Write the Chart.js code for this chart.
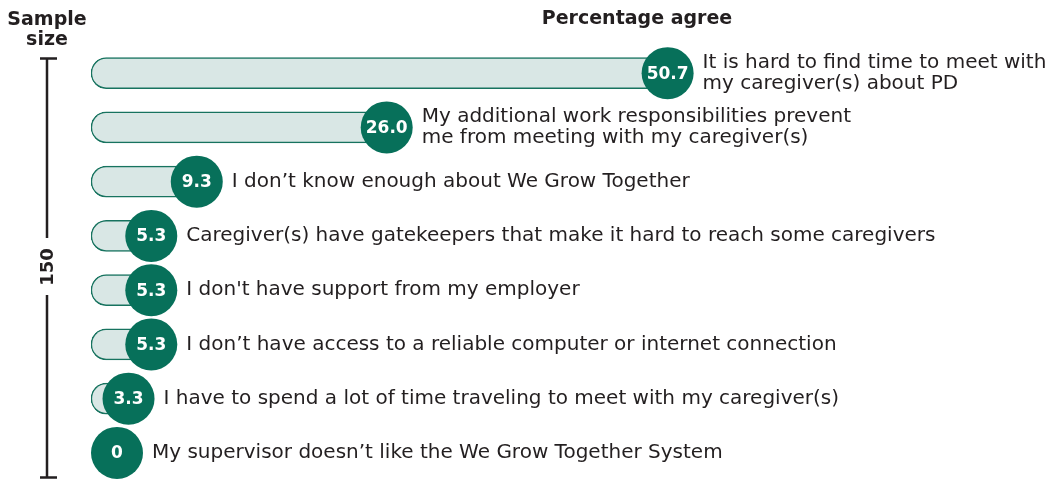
<!DOCTYPE html>
<html>
<head>
<meta charset="utf-8">
<script src="https://cdn.jsdelivr.net/npm/chart.js@4.4.1/dist/chart.umd.min.js"></script>
<style>
  html, body { margin: 0; padding: 0; background: #ffffff; }
  #barriers-chart { display: block; }
</style>
</head>
<body>
<canvas id="barriers-chart" width="1060" height="480"></canvas>
<script>
// reasons (top to bottom), multi-line ones as arrays
let reasons = [
    ['It is hard to find time to meet with', 'my caregiver(s) about PD'],
    ['My additional work responsibilities prevent', 'me from meeting with my caregiver(s)'],
    'I don’t know enough about We Grow Together',
    'Caregiver(s) have gatekeepers that make it hard to reach some caregivers',
    "I don't have support from my employer",
    'I don’t have access to a reliable computer or internet connection',
    'I have to spend a lot of time traveling to meet with my caregiver(s)',
    'My supervisor doesn’t like the We Grow Together System'
]
let percentAgree = [50.7, 26.0, 9.3, 5.3, 5.3, 5.3, 3.3, 0]
let valueLabels = ['50.7', '26.0', '9.3', '5.3', '5.3', '5.3', '3.3', '0']
let sampleSize = 150
let valueTitle = 'Percentage agree'
let sampleTitle = ['Sample', 'size']

let darkGreen = '#07705a'
let textColor = '#231f20'
let fontFamily = '"DejaVu Sans", sans-serif'
let dotRadius = 26

// circles with the value + the reason text next to them
let dotsAndLabels = {
    id: 'dotsAndLabels',
    afterDatasetsDraw(chart) {
        let ctx = chart.ctx
        let x = chart.scales.x
        let y = chart.scales.y
        ctx.save()
        percentAgree.forEach(function(value, i) {
            let cx = Math.max(x.getPixelForValue(value), x.getPixelForValue(0) + dotRadius)
            let cy = y.getPixelForValue(i)

            ctx.beginPath()
            ctx.arc(cx, cy, dotRadius, 0, Math.PI * 2)
            ctx.fillStyle = darkGreen
            ctx.fill()

            ctx.fillStyle = '#ffffff'
            ctx.font = 'bold 17px ' + fontFamily
            ctx.textAlign = 'center'
            ctx.textBaseline = 'middle'
            ctx.fillText(valueLabels[i], cx, cy + 1)

            // reason text
            let lines = Array.isArray(reasons[i]) ? reasons[i] : [reasons[i]]
            ctx.fillStyle = textColor
            ctx.font = '20px ' + fontFamily
            ctx.textAlign = 'left'
            let lineHeight = 21
            let top = cy - (lines.length - 1) * lineHeight / 2
            lines.forEach(function(line, j) {
                ctx.fillText(line, cx + dotRadius + 9, top + j * lineHeight)
            })
        })
        ctx.restore()
    }
}

// headers + the sample size bracket on the left
let sideAxis = {
    id: 'sideAxis',
    afterDraw(chart) {
        let ctx = chart.ctx
        ctx.save()
        ctx.fillStyle = textColor
        ctx.textAlign = 'center'
        ctx.textBaseline = 'alphabetic'
        ctx.font = 'bold 19px ' + fontFamily
        ctx.fillText(valueTitle, 637, 24)
        ctx.fillText(sampleTitle[0], 47, 25)
        ctx.fillText(sampleTitle[1], 47, 45)

        let lx = 47
        let top = 58.5
        let bottom = 477.5
        let mid = (top + bottom) / 2
        ctx.strokeStyle = '#231f20'
        ctx.lineWidth = 2.5
        ctx.beginPath()
        ctx.moveTo(lx, top); ctx.lineTo(lx, mid - 30)
        ctx.moveTo(lx, mid + 27); ctx.lineTo(lx, bottom)
        ctx.moveTo(40, top); ctx.lineTo(57, top)
        ctx.moveTo(40, bottom); ctx.lineTo(57, bottom)
        ctx.stroke()

        ctx.translate(lx, mid - 1)
        ctx.rotate(-Math.PI / 2)
        ctx.textBaseline = 'middle'
        ctx.font = 'bold 18px ' + fontFamily
        ctx.fillText(String(sampleSize), 0, 1)
        ctx.restore()
    }
}

let ctx = document.querySelector('#barriers-chart').getContext('2d')

let barriersChart = new Chart(ctx, {
    type: 'bar',
    data: {
        labels: reasons,
        datasets: [
            {
                data: percentAgree,
                backgroundColor: '#d9e7e5',
                borderColor: '#17735f',
                borderWidth: 1.5,
                borderSkipped: false,
                borderRadius: 16,
                barThickness: 31
            }
        ]
    },
    options: {
        indexAxis: 'y',
        responsive: false,
        animation: false,
        layout: { padding: { left: 91, top: 46, right: 0, bottom: 0 } },
        scales: {
            x: { display: false, min: 0, max: 85.2 },
            y: { display: false }
        },
        plugins: {
            legend: { display: false },
            tooltip: { enabled: false }
        }
    },
    plugins: [dotsAndLabels, sideAxis]
})
</script>
</body>
</html>
